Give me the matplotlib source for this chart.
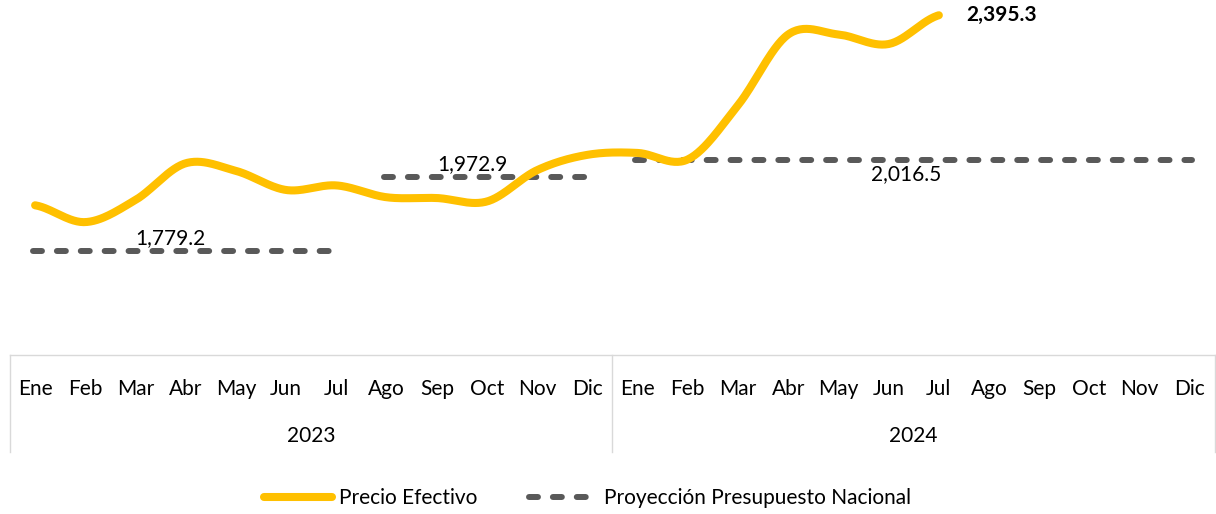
import numpy as np
import matplotlib.pyplot as plt
import matplotlib.transforms as mtransforms
from matplotlib.lines import Line2D

plt.rcParams['font.family'] = ['Lato', 'DejaVu Sans']

# data
meses = ["Ene", "Feb", "Mar", "Abr", "May", "Jun", "Jul", "Ago", "Sep", "Oct", "Nov", "Dic"]
anios = ["2023", "2024"]

precio_efectivo = [1898.0, 1854.0, 1912.0, 2008.0, 1988.0, 1938.0, 1950.0, 1919.0, 1917.0, 1908.0,
                   1990.0, 2030.0, 2035.0, 2018.0, 2160.0, 2345.0, 2345.0, 2320.0, 2395.3]

proy_valores = [1779.2, 1972.9, 2016.5]
proy_inicio = [0, 7, 12]
proy_fin = [6, 11, 23]

AMARILLO = "#FFC000"
GRIS = "#595959"


def suavizar(y, n=30):
    # catmull-rom curve through the points (like excel smoothed line)
    y = np.asarray(y, dtype=float)
    x = np.arange(len(y), dtype=float)
    p = np.concatenate([[y[0]], y, [y[-1]]])
    xs, ys = [], []
    for i in range(len(y) - 1):
        p0, p1, p2, p3 = p[i], p[i + 1], p[i + 2], p[i + 3]
        t = np.linspace(0, 1, n, endpoint=False)
        yy = 0.5 * ((2 * p1) + (-p0 + p2) * t + (2 * p0 - 5 * p1 + 4 * p2 - p3) * t ** 2
                    + (-p0 + 3 * p1 - 3 * p2 + p3) * t ** 3)
        xs.append(x[i] + t)
        ys.append(yy)
    xs.append([x[-1]])
    ys.append([y[-1]])
    return np.concatenate(xs), np.concatenate(ys)


fig = plt.figure(figsize=(12.16, 5.14), dpi=100)
ax = fig.add_axes([10 / 1216, 1 - 355 / 514, 1205 / 1216, 355 / 514])
ax.set_xlim(-0.5, 23.5)
ax.set_ylim(1506.2, 2435.2)
ax.axis("off")

LW_Y = 5.8
LW_G = 4.3
DASH = (1.5, 2.5)

# projection lines
for v, a, b in zip(proy_valores, proy_inicio, proy_fin):
    ax.plot([a - 0.05, b + 0.05], [v, v], color=GRIS, lw=LW_G, dashes=DASH,
            solid_capstyle="round", dash_capstyle="round", zorder=2)

xs, ys = suavizar(precio_efectivo)
ax.plot(xs, ys, color=AMARILLO, lw=LW_Y, solid_capstyle="round", zorder=3)

fs = 15
ax.text(2.7, proy_valores[0] + 8, "1,779.2", fontsize=fs, ha="center", va="bottom", zorder=4)
ax.text(8.7, proy_valores[1] + 8, "1,972.9", fontsize=fs, ha="center", va="bottom", zorder=4)
ax.text(17.35, proy_valores[2] - 12, "2,016.5", fontsize=fs, ha="center", va="top", zorder=4)
ax.text(18.55, precio_efectivo[-1], "2,395.3", fontsize=fs, fontweight="bold",
        ha="left", va="center", zorder=4)

# category axis drawn as a table
trans = mtransforms.blended_transform_factory(ax.transData, ax.transAxes)
y_fila = -(389 - 355) / 355
y_anio = -(436 - 355) / 355
y_fondo = -(452 - 355) / 355
ax.plot([-0.5, 23.5], [0, 0], color="#D9D9D9", lw=1, transform=trans, clip_on=False)
for xv in [-0.5, 11.5, 23.5]:
    ax.plot([xv, xv], [0, y_fondo], color="#D9D9D9", lw=1, transform=trans, clip_on=False)
for k, anio in enumerate(anios):
    for i, m in enumerate(meses):
        ax.text(k * 12 + i, y_fila, m, fontsize=fs, ha="center", va="center", transform=trans)
    ax.text(k * 12 + 5.5, y_anio, anio, fontsize=fs, ha="center", va="center", transform=trans)

handles = [Line2D([], [], color=AMARILLO, lw=LW_Y, solid_capstyle="round"),
           Line2D([], [], color=GRIS, lw=LW_G, dashes=DASH, dash_capstyle="round")]
fig.legend(handles, ["Precio Efectivo", "Proyección Presupuesto Nacional"], loc="center",
           bbox_to_anchor=(0.483, 0.031), ncol=2, frameon=False, fontsize=fs,
           handlelength=3.3, handletextpad=0.3, columnspacing=2.5)

fig.savefig("out.png", dpi=100)
